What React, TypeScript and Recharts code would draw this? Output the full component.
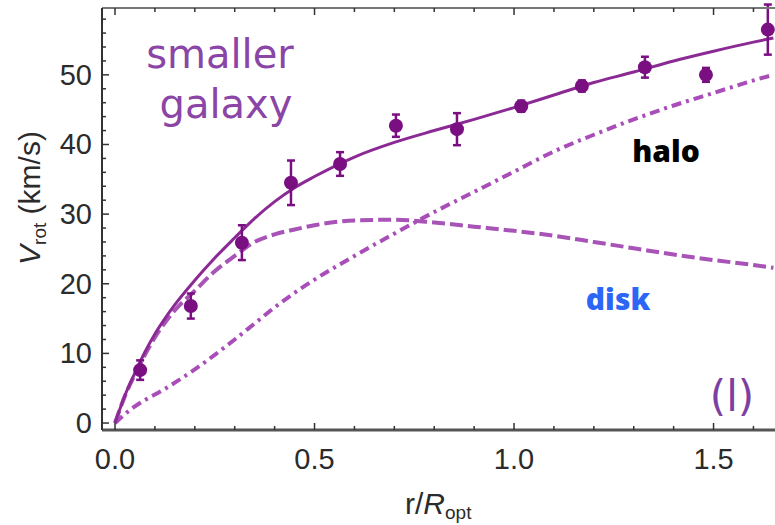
import React from 'react';
import { ComposedChart, Line, Scatter, ErrorBar, XAxis, YAxis } from 'recharts';

// r / R_opt sample points for the model curves
const curveR = [0, 0.025, 0.05, 0.075, 0.1, 0.125, 0.15, 0.2, 0.25, 0.3, 0.35, 0.4, 0.45, 0.5, 0.6, 0.7, 0.8, 0.9, 1.0, 1.1, 1.2, 1.3, 1.4, 1.5, 1.6, 1.65];
const totalV = [0, 4.0, 7.2, 10.2, 12.8, 15.0, 17.0, 20.5, 23.7, 26.6, 29.4, 31.8, 33.8, 35.4, 38.2, 40.3, 42.0, 43.6, 45.3, 47.1, 48.9, 50.4, 52.0, 53.4, 54.7, 55.3];
const diskV = [0, 3.9, 7.0, 9.8, 12.3, 14.4, 16.2, 19.0, 21.8, 24.0, 26.0, 27.1, 27.8, 28.4, 29.1, 29.2, 28.8, 28.2, 27.6, 26.9, 26.0, 25.1, 24.2, 23.4, 22.7, 22.3];
const haloV = [0, 1.3, 2.4, 3.3, 4.1, 4.9, 5.8, 7.7, 9.8, 12.0, 14.3, 16.6, 18.7, 20.6, 24.0, 27.2, 30.3, 33.2, 36.1, 39.0, 41.4, 43.6, 45.6, 47.4, 49.2, 50.0];

// measured rotation velocities
const obsR = [0.063, 0.19, 0.318, 0.441, 0.564, 0.704, 0.857, 1.018, 1.17, 1.328, 1.481, 1.636];
const obsV = [7.6, 16.8, 25.9, 34.5, 37.2, 42.7, 42.2, 45.5, 48.4, 51.1, 50.0, 56.5];
const obsErr = [1.4, 1.8, 2.5, 3.2, 1.7, 1.6, 2.3, 0.8, 0.8, 1.5, 1.0, 3.6];

const xTicks = [0, 0.1, 0.2, 0.3, 0.4, 0.5, 0.6, 0.7, 0.8, 0.9, 1.0, 1.1, 1.2, 1.3, 1.4, 1.5, 1.6];
const yTicks = [0, 2, 4, 6, 8, 10, 12, 14, 16, 18, 20, 22, 24, 26, 28, 30, 32, 34, 36, 38, 40, 42, 44, 46, 48, 50, 52, 54, 56, 58];

const curveData = curveR.map((x, i) => ({ x, total: totalV[i], disk: diskV[i], halo: haloV[i] }));
const obsData = obsR.map((x, i) => ({ x, v: obsV[i], err: obsErr[i] }));

const X_DOMAIN: [number, number] = [-0.0326, 1.654];
const Y_DOMAIN: [number, number] = [-1, 59.6];

const TICK_FONT = { fontFamily: '"Liberation Sans", Arial, sans-serif', fontSize: 29, fill: '#2b2b2b' };

const isMajor = (v: number, step: number) => Math.abs(v / step - Math.round(v / step)) < 1e-6;

const BottomTick = (props: any) => {
  const { x, y, payload } = props;
  const v = payload.value;
  const major = isMajor(v, 0.5);
  return (
    <g>
      <line x1={x} x2={x} y1={y} y2={y - (major ? 7 : 4)} stroke="#333" strokeWidth={1.5} />
      {major && (
        <text x={x} y={y + 39} textAnchor="middle" {...TICK_FONT}>
          {v.toFixed(1)}
        </text>
      )}
    </g>
  );
};

const TopTick = (props: any) => {
  const { x, y, payload } = props;
  const major = isMajor(payload.value, 0.5);
  return <line x1={x} x2={x} y1={y} y2={y + (major ? 7 : 4)} stroke="#333" strokeWidth={1.5} />;
};

const LeftTick = (props: any) => {
  const { x, y, payload } = props;
  const v = payload.value;
  const major = isMajor(v, 10);
  return (
    <g>
      <line x1={x} x2={x + (major ? 7 : 4)} y1={y} y2={y} stroke="#333" strokeWidth={1.5} />
      {major && (
        <text x={x - 10} y={y + 10} textAnchor="end" {...TICK_FONT}>
          {v}
        </text>
      )}
    </g>
  );
};

const Dot = (props: any) => <circle cx={props.cx} cy={props.cy} r={7} fill="#7a0f82" />;

export default function App() {
  return (
    <div style={{ position: 'absolute', left: 0, top: 0, width: 775, height: 525, background: '#fff' }}>
      <ComposedChart
        width={775}
        height={525}
        data={curveData}
        margin={{ top: 7, right: 0, bottom: 94, left: 101 }}
      >
        <XAxis
          dataKey="x"
          type="number"
          domain={X_DOMAIN}
          allowDataOverflow
          ticks={xTicks}
          interval={0}
          tick={<BottomTick />}
          tickLine={false}
          tickSize={0}
          tickMargin={0}
          height={1}
          axisLine={{ stroke: '#555', strokeWidth: 3 }}
        />
        <XAxis
          xAxisId="top"
          orientation="top"
          dataKey="x"
          type="number"
          domain={X_DOMAIN}
          allowDataOverflow
          ticks={xTicks}
          interval={0}
          tick={<TopTick />}
          tickLine={false}
          tickSize={0}
          tickMargin={0}
          height={1}
          axisLine={{ stroke: '#777', strokeWidth: 2 }}
        />
        <YAxis
          type="number"
          domain={Y_DOMAIN}
          allowDataOverflow
          ticks={yTicks}
          interval={0}
          tick={<LeftTick />}
          tickLine={false}
          tickSize={0}
          tickMargin={0}
          width={1}
          axisLine={{ stroke: '#333', strokeWidth: 2 }}
        />
        <Line
          type="monotone"
          dataKey="halo"
          stroke="#a94db8"
          strokeWidth={4}
          strokeDasharray="10 5 3 5"
          dot={false}
          isAnimationActive={false}
        />
        <Line
          type="monotone"
          dataKey="disk"
          stroke="#a853b6"
          strokeWidth={4}
          strokeDasharray="13 5"
          dot={false}
          isAnimationActive={false}
        />
        <Line
          type="monotone"
          dataKey="total"
          stroke="#8b2a94"
          strokeWidth={3}
          dot={false}
          isAnimationActive={false}
        />
        <Scatter data={obsData} dataKey="v" shape={<Dot />} isAnimationActive={false}>
          <ErrorBar dataKey="err" direction="y" width={4} stroke="#7a0f82" strokeWidth={2.5} />
        </Scatter>
      </ComposedChart>

      <svg width={775} height={525} style={{ position: 'absolute', left: 0, top: 0, pointerEvents: 'none' }}>
        <g fontFamily='"DejaVu Sans", sans-serif' fill="#8b45a6">
          <text x={220} y={68} fontSize={40} textAnchor="middle">smaller</text>
          <text x={226} y={118} fontSize={40} textAnchor="middle">galaxy</text>
          <text x={732} y={411} fontSize={42} textAnchor="middle" fill="#7d3fa0">(l)</text>
        </g>
        <text x={666} y={162} fontFamily='"Open Sans", sans-serif' fontWeight={800} fontSize={30} textAnchor="middle" fill="#000">
          halo
        </text>
        <text x={618} y={310} fontFamily='"Open Sans", sans-serif' fontWeight={800} fontSize={30} textAnchor="middle" fill="#2b66f6">
          disk
        </text>
        <text
          x={40}
          y={198}
          transform="rotate(-90 40 198)"
          textAnchor="middle"
          fontFamily='"Liberation Sans", Arial, sans-serif'
          fontSize={30}
          fill="#2b2b2b"
        >
          <tspan fontStyle="italic">V</tspan>
          <tspan fontSize={19} dy={6}>rot</tspan>
          <tspan dy={-6}> (km/s)</tspan>
        </text>
        <text x={405} y={514} fontFamily='"Liberation Sans", Arial, sans-serif' fontSize={30} fill="#2b2b2b">
          r/<tspan fontStyle="italic">R</tspan>
          <tspan fontSize={19} dy={5}>opt</tspan>
        </text>
      </svg>
    </div>
  );
}
